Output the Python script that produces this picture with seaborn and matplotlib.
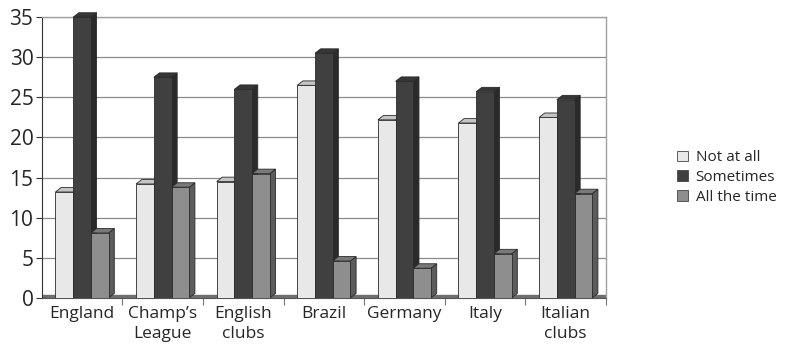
import pandas as pd
import matplotlib.pyplot as plt
import seaborn as sns
from matplotlib.patches import Patch, Polygon
from matplotlib.colors import to_rgb

categories = ["England", "Champ’s\nLeague", "English\nclubs", "Brazil", "Germany", "Italy", "Italian\nclubs"]
series = ["Not at all", "Sometimes", "All the time"]
not_at_all = [13.2, 14.2, 14.5, 26.5, 22.2, 21.8, 22.5]
sometimes = [35.0, 27.5, 26.0, 30.5, 27.0, 25.7, 24.7]
all_the_time = [8.1, 13.8, 15.5, 4.6, 3.7, 5.5, 13.0]
colors = ["#e8e8e8", "#404040", "#8e8e8e"]

df = pd.DataFrame({"country": categories, "Not at all": not_at_all,
                   "Sometimes": sometimes, "All the time": all_the_time})
df = df.melt(id_vars="country", var_name="answer", value_name="value")

sns.set_style("white")
plt.rcParams['font.family'] = ['Open Sans', 'DejaVu Sans']

fig = plt.figure(figsize=(7.88, 3.5), dpi=100)
ax = fig.add_axes([0.053, 0.149, 0.716, 0.802])

sns.barplot(data=df, x="country", y="value", hue="answer", hue_order=series,
            palette=dict(zip(series, colors)), width=0.66, edgecolor="#2a2a2a",
            linewidth=0.6, saturation=1, legend=False, ax=ax)


def shade(c, f):
    r, g, b = to_rgb(c)
    return (r * f, g * f, b * f)


# fake 3D depth: side and top faces built from each bar's own geometry
dx, dy = 0.07, 0.55
for i, bar in enumerate(ax.patches):
    col = colors[i // len(categories)]
    x0, w, h = bar.get_x(), bar.get_width(), bar.get_height()
    x1 = x0 + w
    z = 3 + x0
    bar.set_zorder(z)
    side = Polygon([(x1, 0), (x1 + dx, dy), (x1 + dx, h + dy), (x1, h)],
                   facecolor=shade(col, 0.65), edgecolor="#2a2a2a", lw=0.6,
                   zorder=z - 0.01, clip_on=False)
    top = Polygon([(x0, h), (x0 + dx, h + dy), (x1 + dx, h + dy), (x1, h)],
                  facecolor=shade(col, 0.85), edgecolor="#2a2a2a", lw=0.6,
                  zorder=z - 0.01, clip_on=False)
    ax.add_patch(side)
    ax.add_patch(top)

# floor strip
ax.axhspan(0, 0.35, color="#6f6f6f", zorder=2)

ax.set_ylim(0, 35)
ax.set_xlim(-0.5, 6.5)
ax.set_yticks(range(0, 36, 5))
ax.yaxis.grid(True, color="#8a8a8a", lw=0.9)
ax.set_axisbelow(True)
ax.set_xlabel("")
ax.set_ylabel("")

ax.tick_params(axis="y", labelsize=15, length=4, width=0.8, color="#333", pad=2, left=True)
ax.tick_params(axis="x", which="major", labelsize=12.5, length=0, pad=6)
ax.set_xticks([k + 0.5 for k in range(len(categories))], minor=True)
ax.tick_params(axis="x", which="minor", length=5, width=0.8, color="#777", bottom=True)
for lbl in ax.get_xticklabels():
    lbl.set_linespacing(1.3)

for s in ["top", "right"]:
    ax.spines[s].set_color("#a0a0a0")
    ax.spines[s].set_linewidth(1)
ax.spines["left"].set_color("#333")
ax.spines["bottom"].set_color("#555")

handles = [Patch(facecolor=c, edgecolor="#444", lw=0.6) for c in colors]
fig.legend(handles, series, loc="center left", bbox_to_anchor=(0.842, 0.493),
           frameon=False, fontsize=11, handlelength=0.7, handleheight=0.7,
           handletextpad=0.5, labelspacing=0.3)

fig.savefig("out.png", dpi=100)
